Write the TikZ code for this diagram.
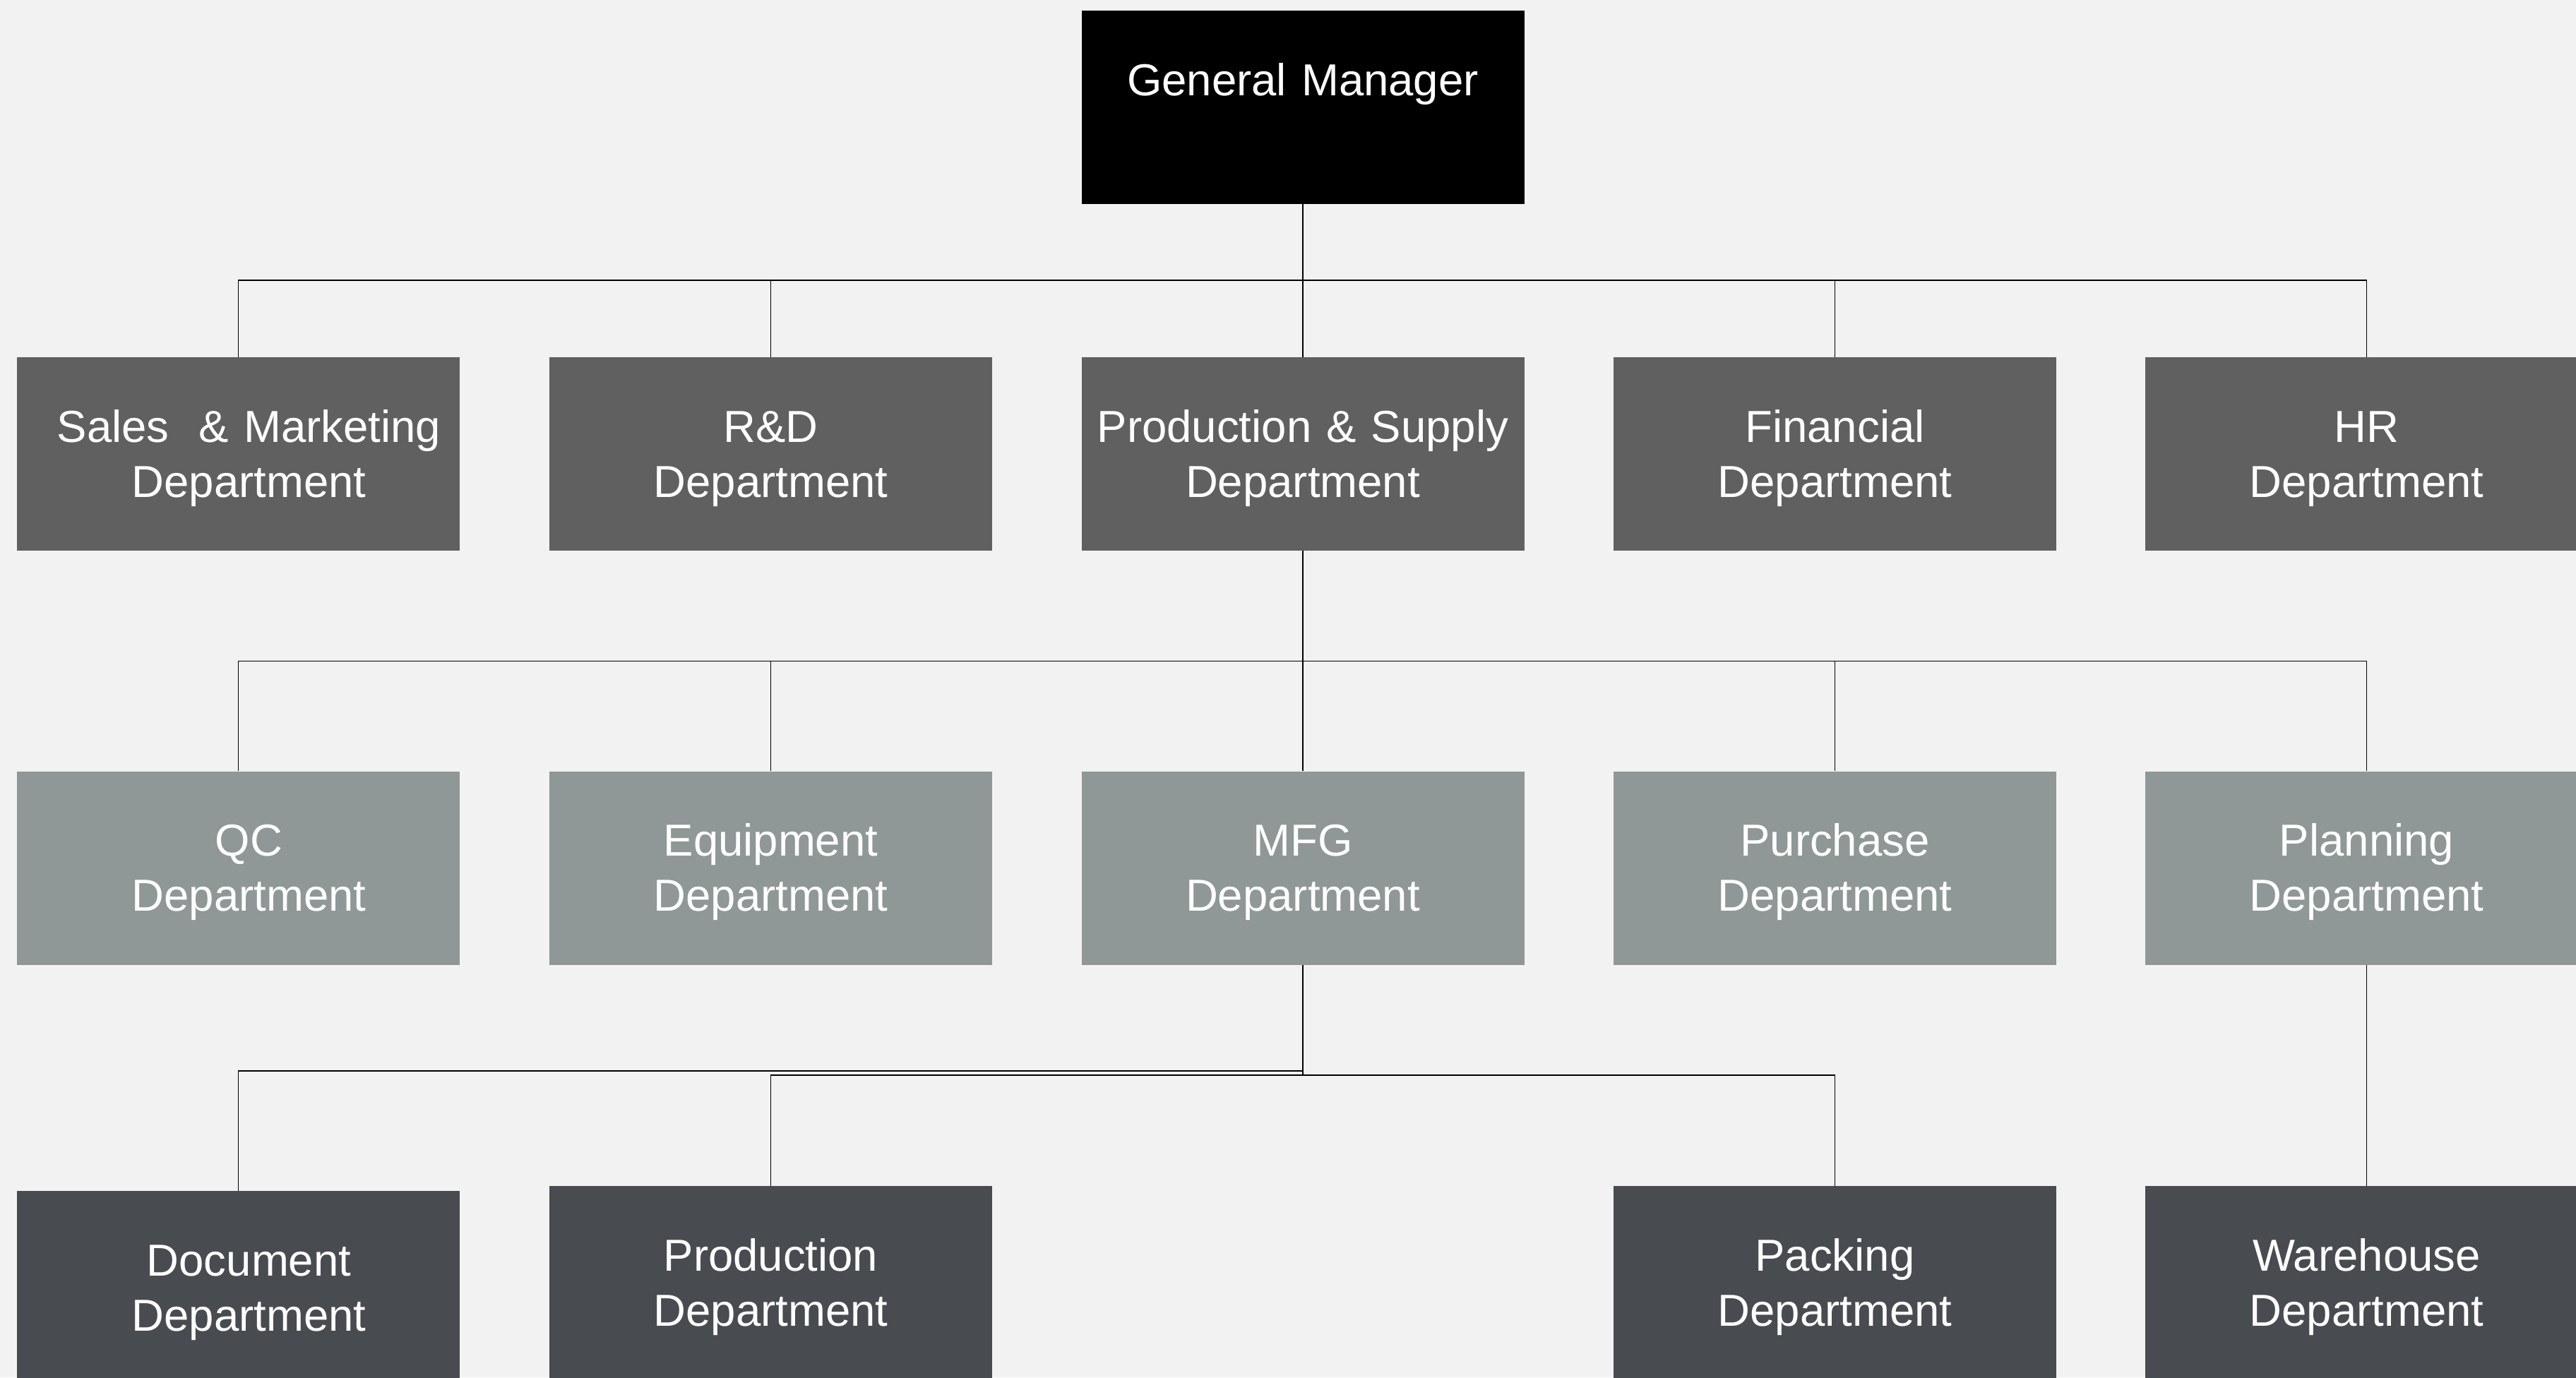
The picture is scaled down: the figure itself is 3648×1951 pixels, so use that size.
\documentclass[tikz,border=0pt]{standalone}
\usepackage{fontspec}
\setmainfont{Liberation Sans}
\usepackage{tikz}
\definecolor{bgcol}{HTML}{F2F2F2}
\definecolor{deptcol}{HTML}{606060}
\definecolor{subcol}{HTML}{8F9896}
\definecolor{unitcol}{HTML}{484B50}
\tikzset{
  box/.style={rectangle, inner sep=0pt, minimum width=313.5pt, minimum height=137pt,
    text width=313.5pt, align=center, text height=23pt, text depth=40pt,
    text=white, font=\fontsize{31.75}{39}\selectfont},
  link/.style={draw=black, line width=0.9pt}
}
\begin{document}
\begin{tikzpicture}[x=0.5pt,y=0.5pt,yscale=-1,xscale=1]
\clip (0,0) rectangle (3648,1951);
\fill[bgcol] (0,0) rectangle (3648,1951);

% Top
\node[box, fill=black] (gm) at (1845,152) {General Manager};

% Departments
\node[box, fill=deptcol] (sales) at (337.5,643) {\hspace*{15pt}Sales\ \ \& Marketing\\\hspace*{15pt}Department};
\node[box, fill=deptcol] (rnd) at (1091.5,643) {R\&D\\Department};
\node[box, fill=deptcol] (prod) at (1845,643) {Production \& Supply\\Department};
\node[box, fill=deptcol] (fin) at (2598.5,643) {Financial\\Department};
\node[box, fill=deptcol] (hr) at (3351.5,643) {HR\\Department};

% Sub departments
\node[box, fill=subcol] (qc) at (337.5,1229.5) {\hspace*{15pt}QC\\\hspace*{15pt}Department};
\node[box, fill=subcol] (equip) at (1091.5,1229.5) {Equipment\\Department};
\node[box, fill=subcol] (mfg) at (1845,1229.5) {MFG\\Department};
\node[box, fill=subcol] (purch) at (2598.5,1229.5) {Purchase\\Department};
\node[box, fill=subcol] (plan) at (3351.5,1229.5) {Planning\\Department};

% Units
\node[box, fill=unitcol] (doc) at (337.5,1824) {\hspace*{15pt}Document\\\hspace*{15pt}Department};
\node[box, fill=unitcol] (production) at (1091.5,1817) {Production\\Department};
\node[box, fill=unitcol] (pack) at (2598.5,1817) {Packing\\Department};
\node[box, fill=unitcol] (ware) at (3351.5,1817) {Warehouse\\Department};

% Buses
\coordinate (b1) at (1845,397);
\coordinate (b2) at (1845,936.5);
\coordinate (b3) at (1845,1517);
\coordinate (b4) at (1845,1523);

% Connectors
\draw[link] (gm) -- (b1);
\foreach \n in {sales,rnd,prod,fin,hr}
  \draw[link] (b1) -| (\n);
\draw[link] (prod) -- (b2);
\foreach \n in {qc,equip,mfg,purch,plan}
  \draw[link] (b2) -| (\n);
\draw[link] (mfg) -- (b4);
\draw[link] (b3) -| (doc);
\draw[link] (b4) -| (production);
\draw[link] (b4) -| (pack);
\draw[link] (plan) -- (ware);

\end{tikzpicture}
\end{document}
